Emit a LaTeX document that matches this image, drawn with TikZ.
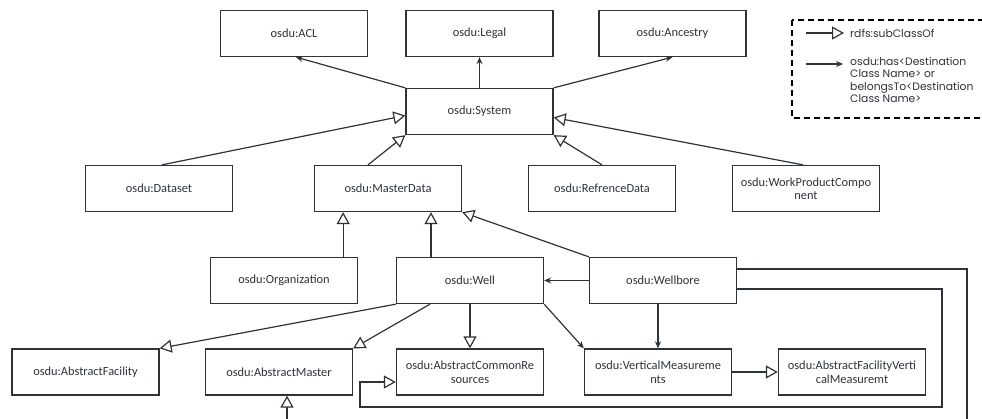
\documentclass[tikz,border=0pt]{standalone}
\usepackage{fontspec}
\setmainfont{Carlito}
\newfontfamily\legendfont{Poppins}
\usetikzlibrary{arrows.meta}
\definecolor{linegray}{HTML}{2E3338}

\begin{document}
\begin{tikzpicture}[x=1pt,y=1pt,
  box/.style={draw=linegray, line width=1.3pt, minimum width=147pt, minimum height=46pt,
    inner sep=0pt, align=center, text=linegray, font=\fontsize{12.4}{13.5}\selectfont},
  subclass/.style={draw=linegray, line width=1.2pt,
    -{Triangle[open,length=12pt,width=13pt,fill=white]}},
  hasrel/.style={draw=linegray, line width=1.2pt, -{Stealth[length=7pt,width=6pt]}},
  legendtext/.style={inner sep=0pt, align=left, text=linegray,
    font=\legendfont\fontsize{10.8}{12.5}\selectfont}]
\useasboundingbox (0,0) rectangle (982,-418);
\clip (0,0) rectangle (982,-418);
% classes
\node[box] (acl) at (294,-33.5) {osdu:ACL};
\node[box] (legal) at (479.5,-33.5) {osdu:Legal};
\node[box] (ancestry) at (672.5,-33.5) {osdu:Ancestry};
\node[box] (system) at (479.5,-111.5) {osdu:System};
\node[box] (dataset) at (159,-188.5) {osdu:Dataset};
\node[box] (masterdata) at (388,-188.5) {osdu:MasterData};
\node[box] (refdata) at (602,-188.5) {osdu:RefrenceData};
\node[box] (wpc) at (806,-188.5) {osdu:WorkProductCompo\\nent};
\node[box] (org) at (284,-280.5) {osdu:Organization};
\node[box] (well) at (470,-280.5) {osdu:Well};
\node[box] (wellbore) at (663,-280.5) {osdu:Wellbore};
\node[box] (absfac) at (85.5,-372) {osdu:AbstractFacility};
\node[box] (absmaster) at (279,-372) {osdu:AbstractMaster};
\node[box] (abscommon) at (470,-372) {osdu:AbstractCommonRe\\sources};
\node[box] (vertmeas) at (658,-372) {osdu:VerticalMeasureme\\nts};
\node[box] (afvm) at (852,-372) {osdu:AbstractFacilityVerti\\calMeasuremt};
% system links
\draw[hasrel] (system.north west) -- ([xshift=2pt]acl.south);
\draw[hasrel] (system.north) -- (legal.south);
\draw[hasrel] (system.north east) -- (ancestry.south);
\draw[subclass] ([xshift=3pt]dataset.north) -- ([yshift=-4pt]system.west);
\draw[subclass] ([xshift=-20pt]masterdata.north) -- (system.south west);
\draw[subclass] (refdata.north) -- (system.south east);
\draw[subclass] ([xshift=-3pt]wpc.north) -- ([yshift=-6pt]system.east);
% master data links
\draw[subclass] ([xshift=-15pt]org.north east) -- ([xshift=-15pt]org.north east |- masterdata.south);
\draw[subclass] ([xshift=-39pt]well.north) -- ([xshift=-39pt]well.north |- masterdata.south);
\draw[subclass] (wellbore.north west) -- (masterdata.south east);
\draw[hasrel] (wellbore.west) -- (well.east);
% well links
\draw[subclass] (well.south west) -- (absfac.north east);
\draw[subclass] ([xshift=-40pt]well.south) -- (absmaster.north east);
\draw[subclass] (well.south) -- (abscommon.north);
\draw[hasrel] (well.south east) -- (vertmeas.north west);
\draw[hasrel] (vertmeas.north |- wellbore.south) -- (vertmeas.north);
\draw[subclass] (vertmeas.east) -- (afvm.west);
% wellbore routes
\coordinate (loopa) at (942,-289);
\coordinate (loopb) at (360,-407);
\draw[subclass] ([yshift=-8.5pt]wellbore.east) -- (loopa) -- (loopa |- loopb) -- (loopb)
  -- (loopb |- 0,-382) -- ([yshift=-10pt]abscommon.west);
\coordinate (outa) at (967,-269);
\coordinate (outb) at (967,-430);
\draw[draw=linegray, line width=1.2pt] ([yshift=11.5pt]wellbore.east) -- (outa) -- (outb);
\coordinate (inmaster) at (287,-430);
\draw[subclass] (inmaster) -- (inmaster |- absmaster.south);
% legend
\draw[black, line width=1.3pt, dash pattern=on 6pt off 4pt] (792,-20) rectangle (990,-118);
\node[legendtext, anchor=west] (lsub) at (850,-33) {rdfs:subClassOf};
\node[legendtext, anchor=north west] (lhas) at (850,-57)
  {osdu:has<Destination\\Class Name> or\\belongsTo<Destination\\Class Name>};
\draw[subclass] ([xshift=-44pt]lsub.west) -- ([xshift=-6pt]lsub.west);
\draw[hasrel] ([xshift=-44pt,yshift=-7pt]lhas.north west) -- ([xshift=-7pt,yshift=-7pt]lhas.north west);
\end{tikzpicture}
\end{document}
